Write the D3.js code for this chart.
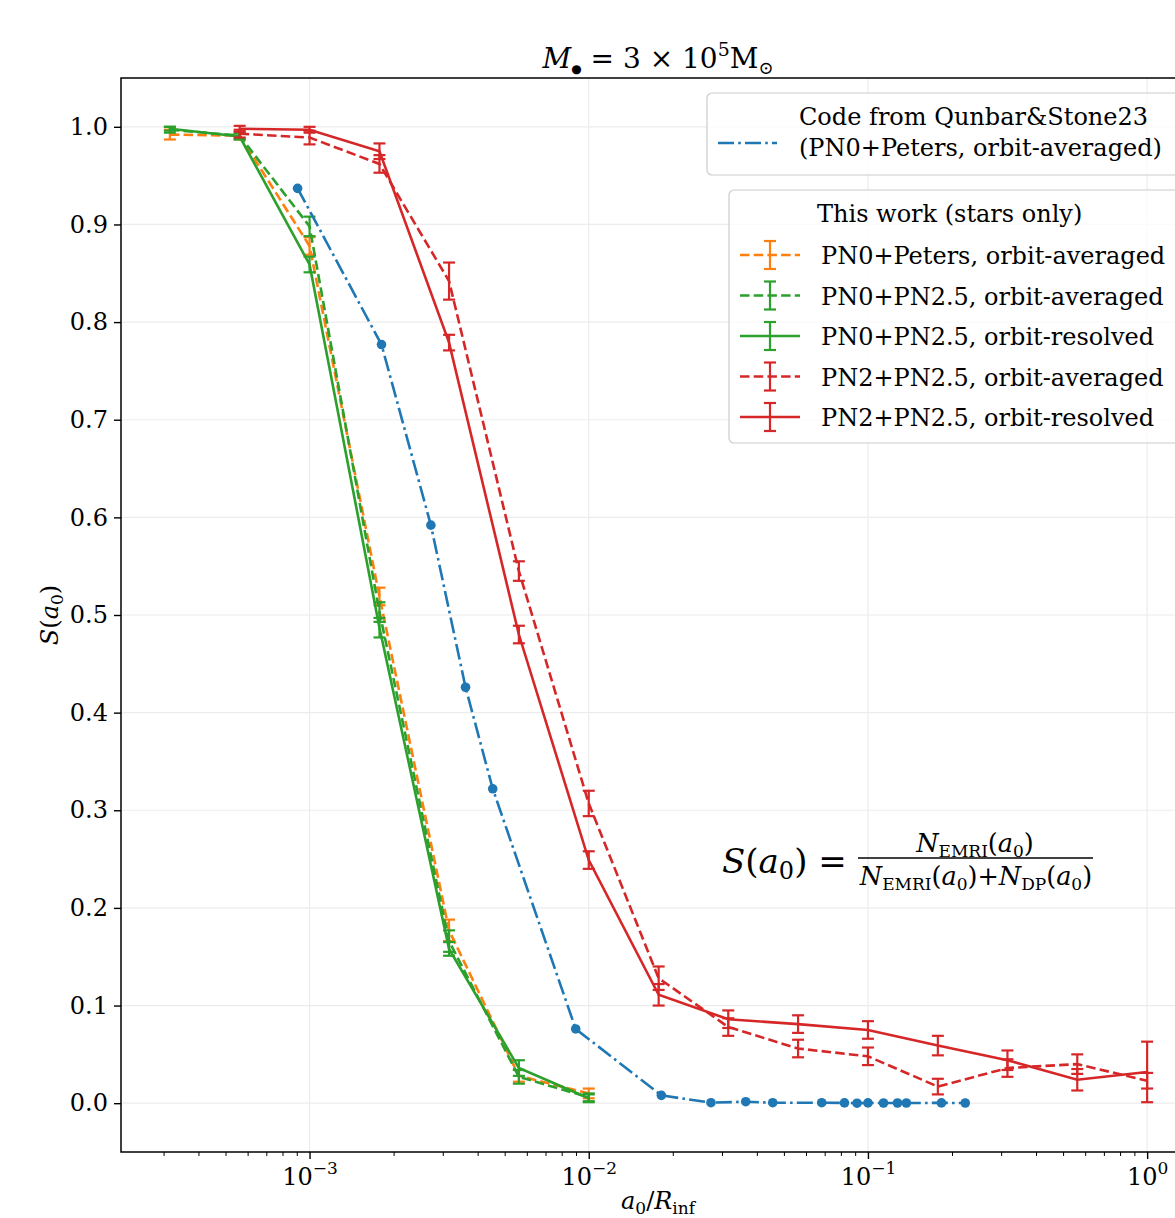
<!DOCTYPE html>
<html>
<head>
<meta charset="utf-8">
<script src="https://cdn.jsdelivr.net/npm/d3@7"></script>
<style>
  body { margin: 0; background: #fff; }
  svg { display: block; }
  text { font-family: "DejaVu Serif", "Liberation Serif", serif; fill: #000; }
</style>
</head>
<body>
<svg id="chart" width="1175" height="1218"></svg>
<script>
// ---- data ----
const xShort = [3.16e-4, 5.62e-4, 1.0e-3, 1.78e-3, 3.16e-3, 5.62e-3, 1.0e-2];
const xLong  = [5.62e-4, 1.0e-3, 1.78e-3, 3.16e-3, 5.62e-3, 1.0e-2, 1.78e-2,
                3.16e-2, 5.62e-2, 1.0e-1, 1.78e-1, 3.16e-1, 5.62e-1, 1.0];

const pn0PetersOA    = [0.992, 0.991, 0.878, 0.519, 0.177, 0.028, 0.010];
const pn0PetersOAErr = [0.005, 0.004, 0.009, 0.009, 0.011, 0.006, 0.005];
const pn0Pn25OA      = [0.997, 0.991, 0.898, 0.503, 0.166, 0.027, 0.006];
const pn0Pn25OAErr   = [0.003, 0.003, 0.010, 0.010, 0.011, 0.007, 0.004];
const pn0Pn25OR      = [0.998, 0.990, 0.859, 0.487, 0.158, 0.036, 0.005];
const pn0Pn25ORErr   = [0.002, 0.003, 0.008, 0.010, 0.007, 0.008, 0.004];

const pn2Pn25OA    = [0.993, 0.989, 0.962, 0.842, 0.545, 0.307, 0.128, 0.078, 0.056, 0.048, 0.017, 0.036, 0.040, 0.023];
const pn2Pn25OAErr = [0.004, 0.007, 0.009, 0.019, 0.010, 0.013, 0.012, 0.009, 0.009, 0.009, 0.008, 0.009, 0.010, 0.008];
const pn2Pn25OR    = [0.998, 0.997, 0.975, 0.779, 0.480, 0.249, 0.111, 0.086, 0.081, 0.075, 0.059, 0.044, 0.024, 0.032];
const pn2Pn25ORErr = [0.003, 0.003, 0.008, 0.008, 0.009, 0.009, 0.011, 0.009, 0.009, 0.009, 0.010, 0.010, 0.011, 0.031];

const qsX = [9.06e-4, 1.81e-3, 2.72e-3, 3.62e-3, 4.53e-3, 8.98e-3, 1.82e-2, 2.74e-2, 3.65e-2, 4.56e-2,
             6.83e-2, 8.24e-2, 9.14e-2, 1.0e-1, 1.137e-1, 1.276e-1, 1.373e-1, 1.833e-1, 2.231e-1];
const qsY = [0.937, 0.777, 0.592, 0.426, 0.322, 0.076, 0.008, 0.0005, 0.0015, 0.0005,
             0.0005, 0.0003, 0.0, 0.0003, 0.0002, 0.0002, 0.0002, 0.0003, 0.0002];

const yTicks = [0.0, 0.1, 0.2, 0.3, 0.4, 0.5, 0.6, 0.7, 0.8, 0.9, 1.0];
const xMajor = [1e-3, 1e-2, 1e-1, 1];
const xMajorExp = ["−3", "−2", "−1", "0"];

const C = { blue: "#1f77b4", orange: "#ff7f0e", green: "#2ca02c", red: "#d62728" };
const LW = 2.6;
const DASH = "9.5,4.2", DASHDOT = "16,4.2,2.6,4.2";

const series = [
  { x: xShort, y: pn0PetersOA, e: pn0PetersOAErr, color: C.orange, dash: DASH,  label: "PN0+Peters, orbit-averaged" },
  { x: xShort, y: pn0Pn25OA,   e: pn0Pn25OAErr,   color: C.green,  dash: DASH,  label: "PN0+PN2.5, orbit-averaged" },
  { x: xShort, y: pn0Pn25OR,   e: pn0Pn25ORErr,   color: C.green,  dash: null,  label: "PN0+PN2.5, orbit-resolved" },
  { x: xLong,  y: pn2Pn25OA,   e: pn2Pn25OAErr,   color: C.red,    dash: DASH,  label: "PN2+PN2.5, orbit-averaged" },
  { x: xLong,  y: pn2Pn25OR,   e: pn2Pn25ORErr,   color: C.red,    dash: null,  label: "PN2+PN2.5, orbit-resolved" }
];

// ---- layout ----
const svg = d3.select("#chart");
const L = 121, T = 78, R = 1196, B = 1152;

// log margins like matplotlib (5% of the log range)
const lo = Math.log10(d3.min(xShort)), hi = Math.log10(d3.max(xLong)), pad = (hi - lo) * 0.05;
const x = d3.scaleLog().domain([10 ** (lo - pad), 10 ** (hi + pad)]).range([L, R]);
const y = d3.scaleLinear().domain([-0.05, 1.05]).range([B, T]);

// grid
const grid = svg.append("g").attr("stroke", "#ececec").attr("stroke-width", 1.2);
grid.selectAll(".gy").data(yTicks).enter().append("line")
  .attr("x1", L).attr("x2", R).attr("y1", d => y(d)).attr("y2", d => y(d));
grid.selectAll(".gx").data(xMajor).enter().append("line")
  .attr("y1", T).attr("y2", B).attr("x1", d => x(d)).attr("x2", d => x(d));

// axes
const yAxis = svg.append("g").attr("transform", `translate(${L},0)`)
  .call(d3.axisLeft(y).tickValues(yTicks).tickFormat(d3.format(".1f")).tickSize(7).tickPadding(6));
yAxis.select(".domain").remove();
yAxis.selectAll("text").attr("font-size", 24).attr("font-family", "DejaVu Serif");
yAxis.selectAll("line").attr("stroke-width", 1.4);

const minors = x.ticks().filter(d => Math.abs(Math.log10(d) % 1) > 1e-6);
const xMinor = svg.append("g").attr("transform", `translate(0,${B})`)
  .call(d3.axisBottom(x).tickValues(minors).tickFormat("").tickSize(4));
xMinor.select(".domain").remove();
xMinor.selectAll("line").attr("stroke-width", 1);

const xAxis = svg.append("g").attr("transform", `translate(0,${B})`)
  .call(d3.axisBottom(x).tickValues(xMajor).tickFormat("").tickSize(7));
xAxis.select(".domain").remove();
xAxis.selectAll("line").attr("stroke-width", 1.4);
xAxis.selectAll(".tick").each(function(d, i) {
  const t = d3.select(this).append("text").attr("y", 33).attr("font-size", 24)
    .attr("text-anchor", "middle").attr("fill", "#000");
  t.append("tspan").text("10");
  t.append("tspan").attr("font-size", 17).attr("dy", -11).text(xMajorExp[i]);
});

// frame
svg.append("rect").attr("x", L).attr("y", T).attr("width", R - L).attr("height", B - T)
  .attr("fill", "none").attr("stroke", "#000").attr("stroke-width", 1.5);

// ---- data marks ----
const plot = svg.append("g");
const line = d3.line();

series.forEach(s => {
  const pts = s.x.map((xv, i) => [x(xv), y(s.y[i])]);
  plot.append("path").attr("d", line(pts)).attr("fill", "none")
    .attr("stroke", s.color).attr("stroke-width", LW)
    .attr("stroke-dasharray", s.dash);
  const eb = plot.append("g").attr("stroke", s.color).attr("stroke-width", 2.2);
  s.x.forEach((xv, i) => {
    const cx = x(xv), y0 = y(s.y[i] - s.e[i]), y1 = y(s.y[i] + s.e[i]);
    eb.append("line").attr("x1", cx).attr("x2", cx).attr("y1", y0).attr("y2", y1);
    eb.append("line").attr("x1", cx - 6).attr("x2", cx + 6).attr("y1", y0).attr("y2", y0);
    eb.append("line").attr("x1", cx - 6).attr("x2", cx + 6).attr("y1", y1).attr("y2", y1);
  });
});

// Qunbar & Stone curve
const qsPts = qsX.map((xv, i) => [x(xv), y(qsY[i])]);
plot.append("path").attr("d", line(qsPts)).attr("fill", "none")
  .attr("stroke", C.blue).attr("stroke-width", LW).attr("stroke-dasharray", DASHDOT);
plot.selectAll(".qs").data(qsPts).enter().append("circle")
  .attr("cx", d => d[0]).attr("cy", d => d[1]).attr("r", 4.8).attr("fill", C.blue);

// ---- legends ----
const FS = 24;
const leg1 = svg.append("g");
leg1.append("rect").attr("x", 707).attr("y", 93).attr("width", 520).attr("height", 82).attr("rx", 5)
  .attr("fill", "#fff").attr("fill-opacity", 0.8).attr("stroke", "#cccccc").attr("stroke-width", 1.2);
leg1.append("line").attr("x1", 718).attr("x2", 777).attr("y1", 143).attr("y2", 143)
  .attr("stroke", C.blue).attr("stroke-width", LW).attr("stroke-dasharray", DASHDOT);
leg1.append("text").attr("x", 799).attr("y", 125).attr("font-size", FS).text("Code from Qunbar&Stone23");
leg1.append("text").attr("x", 799).attr("y", 156).attr("font-size", FS).text("(PN0+Peters, orbit-averaged)");

const leg2 = svg.append("g");
leg2.append("rect").attr("x", 729).attr("y", 190).attr("width", 500).attr("height", 253).attr("rx", 5)
  .attr("fill", "#fff").attr("fill-opacity", 0.8).attr("stroke", "#cccccc").attr("stroke-width", 1.2);
leg2.append("text").attr("x", 817).attr("y", 222).attr("font-size", FS).text("This work (stars only)");
series.forEach((s, i) => {
  const cy = 255 + i * 40.5;
  const g = leg2.append("g").attr("stroke", s.color).attr("stroke-width", LW);
  g.append("line").attr("x1", 740).attr("x2", 800).attr("y1", cy).attr("y2", cy)
    .attr("stroke-dasharray", s.dash);
  g.append("line").attr("x1", 770).attr("x2", 770).attr("y1", cy - 14).attr("y2", cy + 14).attr("stroke-width", 2.2);
  g.append("line").attr("x1", 764).attr("x2", 776).attr("y1", cy - 14).attr("y2", cy - 14).attr("stroke-width", 2.2);
  g.append("line").attr("x1", 764).attr("x2", 776).attr("y1", cy + 14).attr("y2", cy + 14).attr("stroke-width", 2.2);
  leg2.append("text").attr("x", 821).attr("y", cy + 9).attr("font-size", FS).text(s.label);
});

// ---- title ----
const title = svg.append("text").attr("x", 658).attr("y", 68).attr("font-size", 28).attr("text-anchor", "middle");
title.append("tspan").attr("font-style", "italic").text("M");
title.append("tspan").attr("font-size", 12).attr("dy", 5).text("●");
title.append("tspan").attr("dy", -5).text(" = 3 × 10");
title.append("tspan").attr("font-size", 19).attr("dy", -12).text("5");
title.append("tspan").attr("dy", 12).text("M");
title.append("tspan").attr("font-size", 18).attr("dy", 6).text("⊙");

// ---- axis labels ----
const yl = svg.append("text").attr("transform", "translate(58,615) rotate(-90)")
  .attr("text-anchor", "middle").attr("font-size", 24);
yl.append("tspan").attr("font-style", "italic").text("S");
yl.append("tspan").text("(");
yl.append("tspan").attr("font-style", "italic").text("a");
yl.append("tspan").attr("font-size", 17).attr("dy", 5).text("0");
yl.append("tspan").attr("dy", -5).text(")");

const xl = svg.append("text").attr("x", 658).attr("y", 1209).attr("text-anchor", "middle").attr("font-size", 24);
xl.append("tspan").attr("font-style", "italic").text("a");
xl.append("tspan").attr("font-size", 17).attr("dy", 5).text("0");
xl.append("tspan").attr("dy", -5).text("/");
xl.append("tspan").attr("font-style", "italic").text("R");
xl.append("tspan").attr("font-size", 17).attr("dy", 5).text("inf");

// ---- formula annotation ----
const f = svg.append("g");
const lhs = f.append("text").attr("x", 722).attr("y", 873).attr("font-size", 34);
lhs.append("tspan").attr("font-style", "italic").text("S");
lhs.append("tspan").text("(");
lhs.append("tspan").attr("font-style", "italic").text("a");
lhs.append("tspan").attr("font-size", 24).attr("dy", 6).text("0");
lhs.append("tspan").attr("dy", -6).text(")");
lhs.append("tspan").text(" =");
f.append("line").attr("x1", 858).attr("x2", 1093).attr("y1", 858).attr("y2", 858)
  .attr("stroke", "#000").attr("stroke-width", 1.3);

function fracPart(t, sym, sub) {
  t.append("tspan").attr("font-style", "italic").text(sym);
  t.append("tspan").attr("font-size", 17).attr("dy", 5).text(sub);
  t.append("tspan").attr("dy", -5).text("(");
  t.append("tspan").attr("font-style", "italic").text("a");
  t.append("tspan").attr("font-size", 17).attr("dy", 5).text("0");
  t.append("tspan").attr("dy", -5).text(")");
}
const num = f.append("text").attr("x", 975).attr("y", 852).attr("font-size", 25.5).attr("text-anchor", "middle");
fracPart(num, "N", "EMRI");
const den = f.append("text").attr("x", 976).attr("y", 885).attr("font-size", 25.5).attr("text-anchor", "middle");
fracPart(den, "N", "EMRI");
den.append("tspan").text("+");
fracPart(den, "N", "DP");
</script>
</body>
</html>
